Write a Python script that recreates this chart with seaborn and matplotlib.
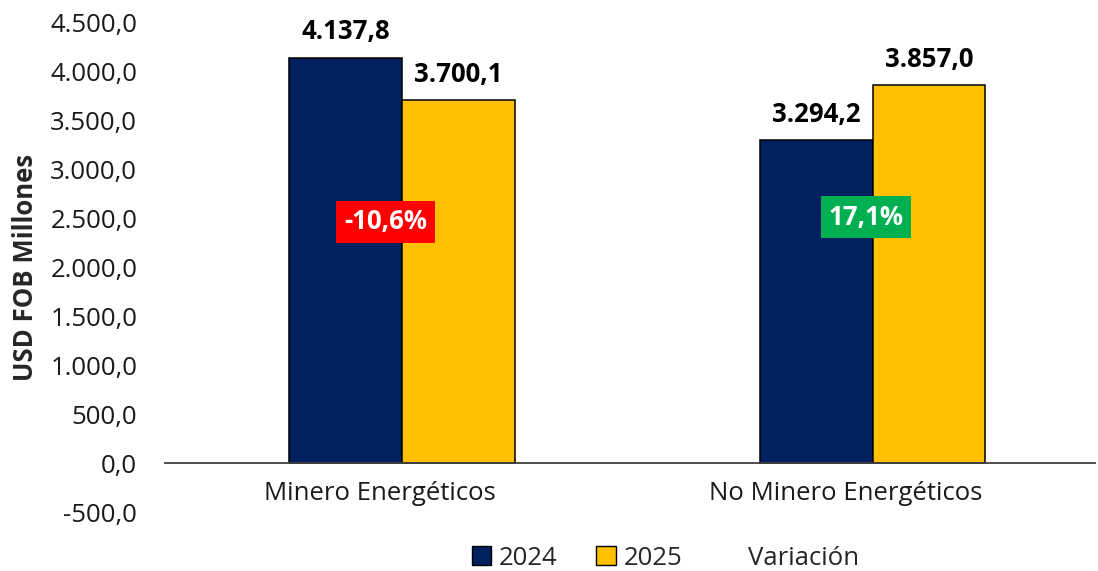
import pandas as pd
import numpy as np
import seaborn as sns
import matplotlib.pyplot as plt
from matplotlib.patches import Patch
from matplotlib.lines import Line2D
from matplotlib.ticker import FuncFormatter

# Datos del grafico
categorias = ['Minero Energéticos', 'No Minero Energéticos']
anios = ['2024', '2025']
valores_2024 = [4137.8, 3294.2]
valores_2025 = [3700.1, 3857.0]
variacion = ['-10,6%', '17,1%']
colores_variacion = ['#FF0000', '#00B050']

df = pd.DataFrame({
    'Categoria': categorias * 2,
    'Anio': [anios[0]] * 2 + [anios[1]] * 2,
    'Valor': valores_2024 + valores_2025,
})

sns.set_style('white')
plt.rcParams['font.family'] = ['Open Sans', 'DejaVu Sans']

def fmt_es(v, decimales=1):
    s = f'{v:,.{decimales}f}'
    return s.replace(',', 'X').replace('.', ',').replace('X', '.')

fig = plt.figure(figsize=(10.98, 5.71), dpi=100)
ax = fig.add_axes([0.1503, 0.1033, 0.847, 0.858])

paleta = {'2024': '#002060', '2025': '#FFC000'}
sns.barplot(data=df, x='Categoria', y='Valor', hue='Anio', order=categorias, hue_order=anios,
            palette=paleta, saturation=1, width=0.48, edgecolor='black', linewidth=1.1, ax=ax, legend=False)

# etiquetas sobre las barras
for cont in ax.containers:
    for bar in cont:
        h = bar.get_height()
        ax.annotate(fmt_es(h), (bar.get_x() + bar.get_width() / 2, h), xytext=(0, 9),
                    textcoords='offset points', ha='center', va='bottom',
                    fontsize=18.5, fontweight='bold', color='black')

# cajas de variacion
pos_x = [-0.035, 0.986]
pos_y = [2460, 2510]
for i, txt in enumerate(variacion):
    ax.text(pos_x[i], pos_y[i], txt, ha='center', va='center', fontsize=18.5, fontweight='bold',
            color='white', bbox=dict(boxstyle='square,pad=0.3', facecolor=colores_variacion[i], edgecolor='none'))

ax.set_ylim(-500, 4500)
ax.set_yticks(np.arange(-500, 4501, 500))
ax.yaxis.set_major_formatter(FuncFormatter(lambda v, p: fmt_es(v)))
ax.set_xlim(-0.504, 1.473)
ax.set_xticks([-0.047, 0.943])
ax.set_xticklabels(categorias)

for s in ['top', 'right', 'left']:
    ax.spines[s].set_visible(False)
ax.spines['bottom'].set_position(('data', 0))
ax.spines['bottom'].set_color('#404040')
ax.spines['bottom'].set_linewidth(1.3)
ax.tick_params(axis='both', length=0, labelsize=18.5, colors='#1a1a1a')
ax.tick_params(axis='y', pad=20)
ax.tick_params(axis='x', pad=13)
ax.set_xlabel('')
ax.set_ylabel('USD FOB Millones', fontsize=18.5, fontweight='bold', labelpad=8)
ax.grid(False)

handles = [Patch(facecolor='#002060', edgecolor='black', linewidth=1.0),
           Patch(facecolor='#FFC000', edgecolor='black', linewidth=1.0),
           Line2D([], [], color='none')]
fig.legend(handles, ['2024', '2025', 'Variación'], loc='lower center', bbox_to_anchor=(0.606, -0.04),
           ncol=3, frameon=False, fontsize=18.5, handlelength=0.75, handleheight=0.75,
           handletextpad=0.3, columnspacing=1.5)

plt.savefig('out.png', dpi=100)
